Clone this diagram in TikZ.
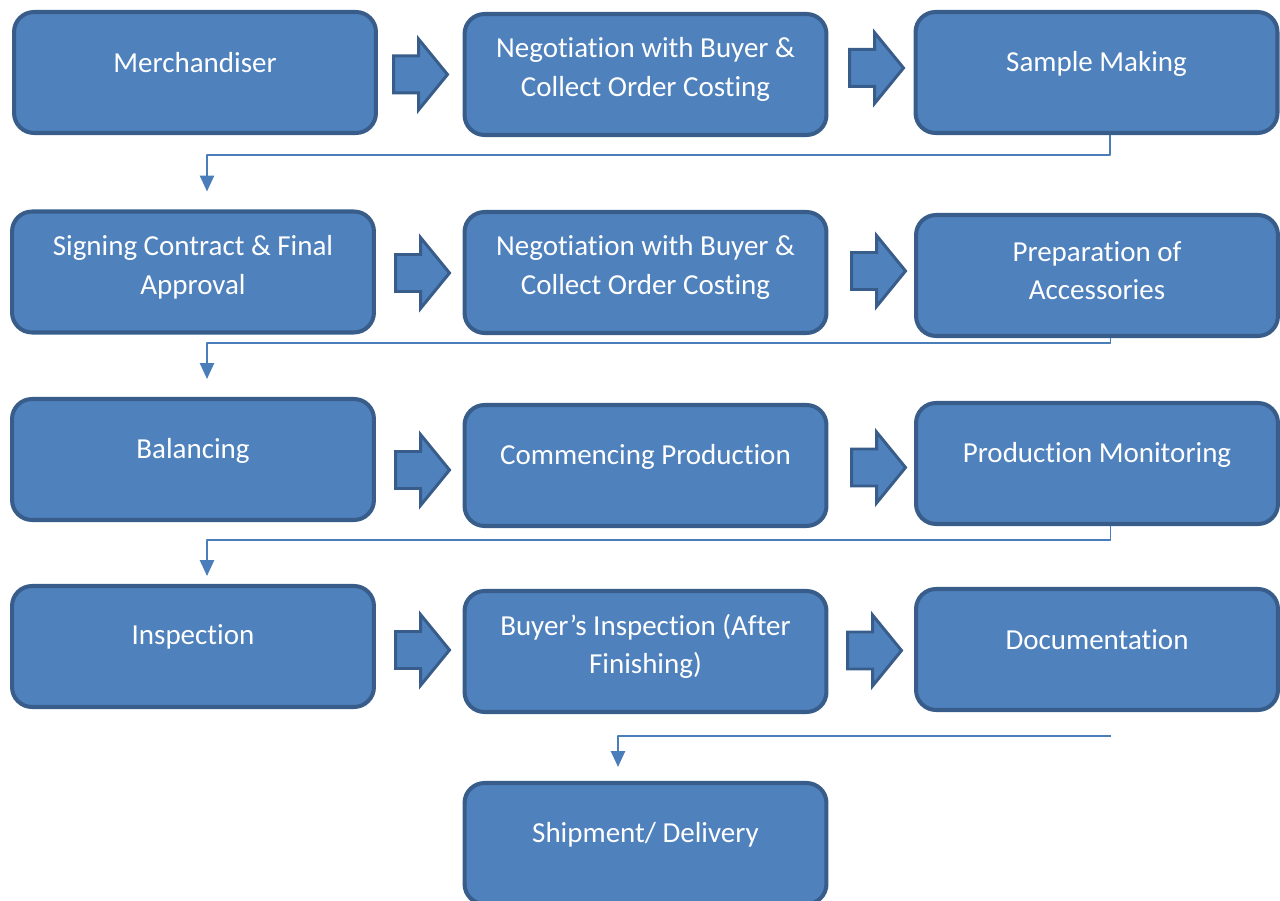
\documentclass[tikz,border=0pt]{standalone}
\usepackage{fontspec}
\setmainfont[Ligatures={NoCommon,NoContextual},Contextuals={NoAlternate}]{Carlito}
\usetikzlibrary{arrows.meta,calc}
\definecolor{boxfill}{HTML}{4F81BD}
\definecolor{boxline}{HTML}{385D8A}
\definecolor{connline}{HTML}{4A7EBB}
\tikzset{
  box/.style={draw=boxline,fill=boxfill,line width=2.3pt,rounded corners=0.4cm,
    minimum width=7.24cm,minimum height=2.42cm,inner sep=0pt},
  lbl/.style={text=white,align=center,font=\fontsize{16.5}{22}\selectfont},
  barrow/.style={draw=boxline,fill=boxfill,line width=1.7pt,line join=miter},
  conn/.style={draw=connline,line width=1.1pt,-{Triangle[length=9pt,width=8pt]}},
  blockarrow/.pic={\path[barrow] (0,-18.5) -- (25,-18.5) -- (25,-35.5) -- (54,0)
    -- (25,35.5) -- (25,18.5) -- (0,18.5) -- cycle;}
}
\begin{document}
\begin{tikzpicture}[x=0.02cm,y=-0.02cm,line join=round]
  \useasboundingbox (0,0) rectangle (1280,901);
  % row 1
  \node[box] (merch) at (195,72.5) {};
  \node[box] (nego) at (645.5,74.5) {};
  \node[box] (sample) at (1096.5,72.5) {};
  \node[lbl] at ($(merch)+(0,-10)$) {Merchandiser};
  \node[lbl] at ($(nego)+(0,-5)$) {Negotiation with Buyer \&\\Collect Order Costing};
  \node[lbl] at ($(sample)+(0,-9)$) {Sample Making};
  \pic at (393.5,74.5) {blockarrow};
  \pic at (849.5,68) {blockarrow};
  % row 2
  \node[box] (sign) at (193,272) {};
  \node[box] (nego2) at (645.5,272.5) {};
  \node[box] (access) at (1097,275.5) {};
  \node[lbl] at ($(sign)+(0,-5)$) {Signing Contract \& Final\\Approval};
  \node[lbl] at ($(nego2)+(0,-5)$) {Negotiation with Buyer \&\\Collect Order Costing};
  \node[lbl] at ($(access)+(0,-5)$) {Preparation of\\Accessories};
  \pic at (395.5,273) {blockarrow};
  \pic at (851.5,271) {blockarrow};
  % row 3
  \node[box] (balance) at (193,459.5) {};
  \node[box] (commence) at (645.5,465.5) {};
  \node[box] (monitor) at (1097,463.5) {};
  \node[lbl] at ($(balance)+(0,-9)$) {Balancing};
  \node[lbl] at ($(commence)+(0,-9)$) {Commencing Production};
  \node[lbl] at ($(monitor)+(0,-9)$) {Production Monitoring};
  \pic at (395.5,470) {blockarrow};
  \pic at (851.5,467.5) {blockarrow};
  % row 4
  \node[box] (inspect) at (193,646.5) {};
  \node[box] (buyinsp) at (645.5,651.5) {};
  \node[box] (docu) at (1097,649.5) {};
  \node[lbl] at ($(inspect)+(0,-10)$) {Inspection};
  \node[lbl] at ($(buyinsp)+(0,-5)$) {Buyer’s Inspection (After\\Finishing)};
  \node[lbl] at ($(docu)+(0,-10)$) {Documentation};
  \pic at (395.5,650) {blockarrow};
  \pic at (847.5,650.5) {blockarrow};
  % last
  \node[box] (ship) at (645.5,843.5) {};
  \node[lbl] at ($(ship)+(0,-9)$) {Shipment/ Delivery};
  % connectors
  \draw[conn] (sample.south) ++(13.5,0) -- ++(0,20) -| ($(sign.north)+(14,-18)$);
  \draw[conn] (access.south) ++(13.5,0) -- ++(0,5) -| ($(balance.north)+(14,-18)$);
  \draw[conn] (monitor.south) ++(13.5,0) -- ++(0,14) -| ($(inspect.north)+(14,-8)$);
  \draw[conn] (docu.south) ++(13.5,24) -| ($(ship.north)+(-27.5,-14)$);
\end{tikzpicture}
\end{document}
